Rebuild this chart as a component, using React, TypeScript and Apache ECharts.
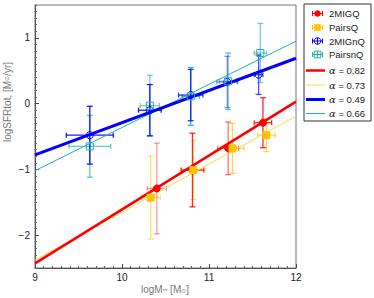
import React, { useEffect, useRef } from "react";
import * as echarts from "echarts";

// 2MIGQ (red, filled circle)
const migQX = [10.40, 10.81, 11.22, 11.62];
const migQY = [-1.29, -1.01, -0.68, -0.29];
const migQXErr = [0.11, 0.13, 0.12, 0.10];
const migQYErr = [0.69, 0.56, 0.40, 0.38];

// PairsQ (yellow, filled square)
const pairsQX = [10.33, 10.82, 11.27, 11.66];
const pairsQY = [-1.43, -1.01, -0.68, -0.48];
const pairsQXErr = [0.11, 0.14, 0.13, 0.10];
const pairsQYErr = [0.63, 0.45, 0.38, 0.25];

// 2MIGnQ (blue, open circle)
const migNQX = [9.63, 10.32, 10.79, 11.21, 11.57];
const migNQY = [-0.48, -0.10, 0.13, 0.33, 0.44];
const migNQXErr = [0.27, 0.13, 0.14, 0.12, 0.05];
const migNQYErr = [0.44, 0.39, 0.39, 0.39, 0.30];

// PairsnQ (cyan, open square)
const pairsNQX = [9.63, 10.32, 10.79, 11.22, 11.59];
const pairsNQY = [-0.65, -0.03, 0.11, 0.34, 0.77];
const pairsNQXErr = [0.24, 0.11, 0.10, 0.10, 0.07];
const pairsNQYErr = [0.47, 0.46, 0.44, 0.43, 0.45];

// fit lines, end points at x = 9 and x = 12
const fitX = [9, 12];
const fitRedY = [-2.43, 0.03];
const fitYellowY = [-2.38, -0.19];
const fitBlueY = [-0.78, 0.69];
const fitCyanY = [-1.02, 0.95];

const yTickValues = [-2, -1, 0, 1];
const legendLabels = ["2MIGQ", "PairsQ", "2MIGnQ", "PairsnQ"];
const alphaLabels = ["0.82", "0.73", "0.49", "0.66"];

// per-point error-bar opacities (style)
const migQAlpha = [0.4, 0.85, 0.55, 0.85];
const pairsQAlpha = [0.55, 0.55, 0.7, 0.7];
const migNQAlpha = [0.9, 0.9, 0.8, 0.45, 0.7];
const pairsNQAlpha = [0.7, 0.6, 0.9, 0.7, 0.6];

const RED = "#ff0000";
const YELLOW = "#ffc400";
const YELLOW_LINE = "#ffd84a";
const BLUE = "#0000ff";
const CYAN = "#20b2aa";

function errSeries(xs: number[], ys: number[], xe: number[], ye: number[], alphas: number[], color: string) {
  return {
    type: "custom",
    z: 2,
    silent: true,
    data: xs.map((x, i) => [x, ys[i], xe[i], ye[i], alphas[i]]),
    renderItem: (params: any, api: any) => {
      const x = api.value(0);
      const y = api.value(1);
      const dx = api.value(2);
      const dy = api.value(3);
      const a = api.value(4);
      const top = api.coord([x, y + dy]);
      const bot = api.coord([x, y - dy]);
      const l = api.coord([x - dx, y]);
      const r = api.coord([x + dx, y]);
      const cw = 3;
      const style = { stroke: color, lineWidth: 1.3, opacity: a };
      const mk = (x1: number, y1: number, x2: number, y2: number) => ({
        type: "line",
        shape: { x1, y1, x2, y2 },
        style,
      });
      return {
        type: "group",
        children: [
          mk(top[0], top[1], bot[0], bot[1]),
          mk(top[0] - cw, top[1], top[0] + cw, top[1]),
          mk(bot[0] - cw, bot[1], bot[0] + cw, bot[1]),
          mk(l[0], l[1], r[0], r[1]),
          mk(l[0], l[1] - 2.5, l[0], l[1] + 2.5),
          mk(r[0], r[1] - 2.5, r[0], r[1] + 2.5),
        ],
      };
    },
  };
}

function lineSeries(ys: number[], color: string, width: number) {
  return {
    type: "line",
    z: 3,
    silent: true,
    symbol: "none",
    data: fitX.map((x, i) => [x, ys[i]]),
    lineStyle: { color, width },
  };
}

function markerSeries(xs: number[], ys: number[], symbol: string, size: number, fill: string, stroke: string) {
  return {
    type: "scatter",
    z: 4,
    silent: true,
    symbol,
    symbolSize: size,
    data: xs.map((x, i) => [x, ys[i]]),
    itemStyle: { color: fill, borderColor: stroke, borderWidth: 1, opacity: 1 },
  };
}

function legendGraphics() {
  const els: any[] = [];
  const x0 = 304;
  const y0 = 4;
  els.push({
    type: "rect",
    shape: { x: x0, y: y0, width: 67, height: 117 },
    style: { fill: "#fff", stroke: "#333", lineWidth: 1 },
    z: 10,
  });
  const rowsY = [13.5, 27.5, 41, 54.5, 70.5, 85, 99.5, 113.5];
  const ix = 317.5;
  const tx = 329;
  const colors = [RED, YELLOW, BLUE, CYAN];
  const textStyle = { fill: "#222", fontSize: 9.5, fontFamily: "Liberation Sans, Arial, sans-serif" };
  for (let i = 0; i < 4; i++) {
    const y = rowsY[i];
    const c = colors[i];
    els.push({ type: "line", shape: { x1: ix - 5, y1: y, x2: ix + 5, y2: y }, style: { stroke: c, lineWidth: 1 }, z: 11 });
    els.push({ type: "line", shape: { x1: ix - 5, y1: y - 2.5, x2: ix - 5, y2: y + 2.5 }, style: { stroke: c, lineWidth: 1 }, z: 11 });
    els.push({ type: "line", shape: { x1: ix + 5, y1: y - 2.5, x2: ix + 5, y2: y + 2.5 }, style: { stroke: c, lineWidth: 1 }, z: 11 });
    if (i === 0) els.push({ type: "circle", shape: { cx: ix, cy: y, r: 3.3 }, style: { fill: c }, z: 12 });
    if (i === 1) els.push({ type: "rect", shape: { x: ix - 3.3, y: y - 3.3, width: 6.6, height: 6.6 }, style: { fill: c }, z: 12 });
    if (i === 2) {
      els.push({ type: "circle", shape: { cx: ix, cy: y, r: 3.3 }, style: { fill: "none", stroke: c, lineWidth: 1 }, z: 12 });
      els.push({ type: "line", shape: { x1: ix, y1: y - 3.3, x2: ix, y2: y + 3.3 }, style: { stroke: c, lineWidth: 1 }, z: 12 });
    }
    if (i === 3) {
      els.push({ type: "rect", shape: { x: ix - 3.3, y: y - 3.3, width: 6.6, height: 6.6 }, style: { fill: "none", stroke: c, lineWidth: 1 }, z: 12 });
      els.push({ type: "line", shape: { x1: ix, y1: y - 3.3, x2: ix, y2: y + 3.3 }, style: { stroke: c, lineWidth: 1 }, z: 12 });
    }
    els.push({ type: "text", x: tx, y, style: { ...textStyle, text: legendLabels[i], verticalAlign: "middle" }, z: 12 });
  }
  const lineColors = [RED, YELLOW_LINE, BLUE, CYAN];
  const lineWidths = [2.5, 1, 3, 1];
  for (let i = 0; i < 4; i++) {
    const y = rowsY[4 + i];
    els.push({ type: "line", shape: { x1: 306, y1: y, x2: 325, y2: y }, style: { stroke: lineColors[i], lineWidth: lineWidths[i] }, z: 11 });
    els.push({
      type: "text",
      x: tx,
      y,
      style: {
        text: "{a|α} = " + alphaLabels[i],
        verticalAlign: "middle",
        ...textStyle,
        rich: { a: { fontStyle: "italic", fontFamily: "DejaVu Serif, serif", fontSize: 10, fill: "#222" } },
      },
      z: 12,
    });
  }
  return els;
}

export default function App() {
  const ref = useRef<HTMLDivElement>(null);
  useEffect(() => {
    if (!ref.current) return;
    const chart = echarts.init(ref.current, null, { renderer: "svg" });
    const font = "Liberation Sans, Arial, sans-serif";
    chart.setOption({
      animation: false,
      grid: { left: 35, top: 5, right: 78, bottom: 30, show: true, borderColor: "#777", borderWidth: 1, backgroundColor: "transparent" },
      xAxis: {
        type: "value",
        min: 9,
        max: 12,
        interval: 1,
        axisLine: { show: true, onZero: false, lineStyle: { color: "#555", width: 1 } },
        axisTick: { show: true, inside: true, length: 4, lineStyle: { color: "#444" } },
        minorTick: { show: true, splitNumber: 10, length: 2, lineStyle: { color: "#666" } },
        splitLine: { show: false },
        axisLabel: { color: "#222", fontSize: 10, margin: 4, fontFamily: font },
      },
      yAxis: [
        {
          type: "value",
          min: -2.5,
          max: 1.5,
          interval: 0.1,
          axisLine: { show: true, onZero: false, lineStyle: { color: "#555", width: 1 } },
          axisTick: { show: true, inside: true, length: 2, lineStyle: { color: "#666" } },
          splitLine: { show: false },
          axisLabel: { show: false },
        },
        {
          type: "value",
          min: -2.5,
          max: 1.5,
          interval: 0.5,
          position: "left",
          axisLine: { show: false, onZero: false },
          axisTick: { show: true, inside: true, length: 4, customValues: yTickValues, lineStyle: { color: "#444" } },
          splitLine: { show: false },
          axisLabel: {
            show: true,
            customValues: yTickValues,
            color: "#222",
            fontSize: 10,
            margin: 5,
            fontFamily: font,
            formatter: (v: number) => (v < 0 ? "\u2212" + Math.abs(v) : String(v)),
          },
        },
      ],
      series: [
        errSeries(pairsNQX, pairsNQY, pairsNQXErr, pairsNQYErr, pairsNQAlpha, CYAN),
        errSeries(migNQX, migNQY, migNQXErr, migNQYErr, migNQAlpha, BLUE),
        errSeries(pairsQX, pairsQY, pairsQXErr, pairsQYErr, pairsQAlpha, YELLOW),
        errSeries(migQX, migQY, migQXErr, migQYErr, migQAlpha, RED),
        lineSeries(fitCyanY, CYAN, 1),
        lineSeries(fitYellowY, YELLOW_LINE, 1),
        lineSeries(fitRedY, RED, 2.5),
        lineSeries(fitBlueY, BLUE, 3),
        markerSeries(migQX, migQY, "circle", 7, RED, RED),
        markerSeries(pairsQX, pairsQY, "rect", 7, YELLOW, YELLOW),
        markerSeries(migNQX, migNQY, "circle", 7, "rgba(0,0,0,0)", BLUE),
        markerSeries(pairsNQX, pairsNQY, "rect", 7, "rgba(0,0,0,0)", CYAN),
      ],
      graphic: [
        {
          type: "text",
          x: 165,
          y: 289,
          style: {
            text: "logM{s|**} [M{s|⊙}]",
            align: "center",
            verticalAlign: "middle",
            fill: "#777",
            fontSize: 10,
            fontFamily: font,
            rich: { s: { fontSize: 6, verticalAlign: "bottom", fill: "#777", fontFamily: font } },
          },
        },
        {
          type: "text",
          x: 7,
          y: 102,
          rotation: Math.PI / 2,
          style: {
            text: "logSFRtot, [M{s|⊙}/yr]",
            align: "center",
            verticalAlign: "middle",
            fill: "#777",
            fontSize: 10,
            fontFamily: font,
            rich: { s: { fontSize: 6, fill: "#777", fontFamily: font } },
          },
        },
        ...legendGraphics(),
      ],
    });
    return () => chart.dispose();
  }, []);
  return <div ref={ref} style={{ width: 374, height: 298, position: "absolute", left: 0, top: 0 }} />;
}
